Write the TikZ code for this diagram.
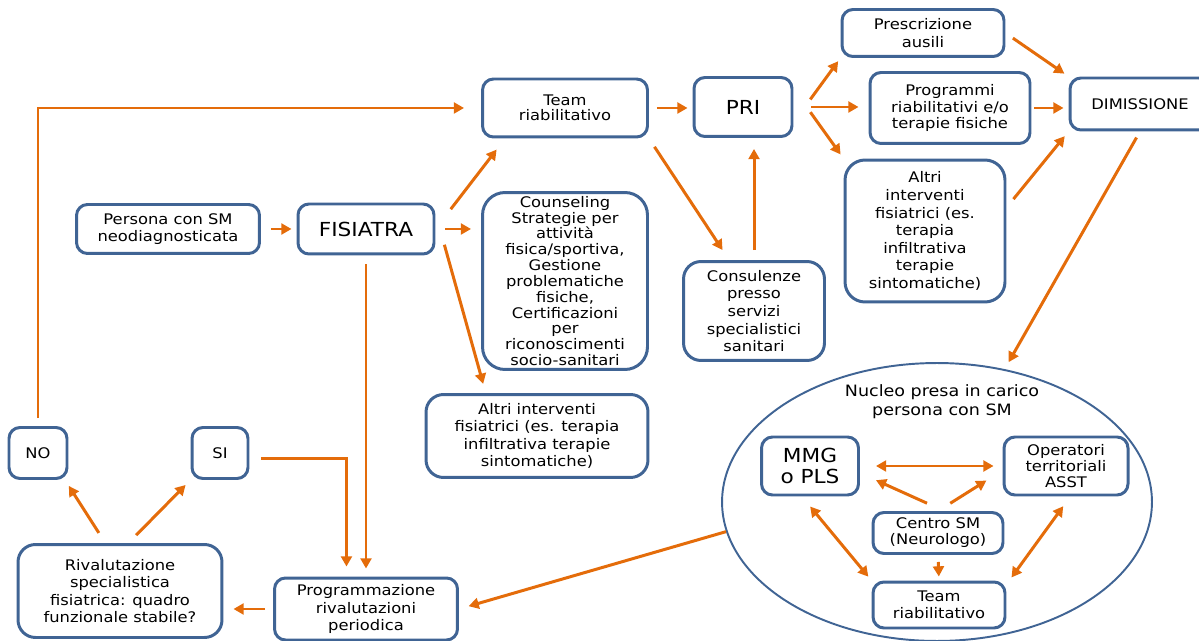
\documentclass[tikz,border=0pt]{standalone}
\usepackage{fontspec}
\setmainfont{DejaVu Sans}[FakeStretch=1.12]
\usetikzlibrary{arrows.meta,shapes.geometric}
\definecolor{boxblue}{RGB}{64,100,148}
\definecolor{arrorange}{RGB}{228,108,10}

\begin{document}
\begin{tikzpicture}[
x=0.02cm,y=-0.02cm,
box/.style={draw=boxblue,line width=1.7pt,rounded corners=0.22cm,fill=white,align=center,inner sep=1pt,font=\fontsize{8.3}{10}\selectfont},
bigbox/.style={box,font=\fontsize{11}{13}\selectfont},
flow/.style={draw=arrorange,line width=1.7pt,-{Triangle[length=5.8pt,width=6.2pt]}},
twoway/.style={flow,{Triangle[length=5.8pt,width=6.2pt]}-{Triangle[length=5.8pt,width=6.2pt]}}
]
\useasboundingbox (0,0) rectangle (1199,641);

% left and middle part
\node (pers) at (168,229) [box, minimum width=3.66cm, minimum height=0.98cm] {Persona con SM\\neodiagnosticata};
\node (fis) at (366,229) [bigbox, minimum width=2.72cm, minimum height=1cm] {FISIATRA};
\node (team) at (565,108) [box, minimum width=3.3cm, minimum height=1.16cm, font=\fontsize{8.3}{8.8}\selectfont] {Team\\riabilitativo};
\node (pri) at (743,107) [bigbox, minimum width=1.96cm, minimum height=1.18cm] {PRI};
\node (couns) at (565,281) [box, rounded corners=0.45cm, minimum width=3.3cm, minimum height=3.54cm, font=\fontsize{8.3}{9}\selectfont, inner sep=0pt] {Counseling\\Strategie per\\attività\\fisica/sportiva,\\Gestione\\problematiche\\fisiche,\\Certificazioni\\per\\riconoscimenti\\socio-sanitari};
\node (cons) at (754,311) [box, rounded corners=0.35cm, minimum width=2.82cm, minimum height=1.98cm] {Consulenze\\presso\\servizi\\specialistici\\sanitari};
\node (altria) at (537,436) [box, rounded corners=0.35cm, minimum width=4.44cm, minimum height=1.66cm] {Altri interventi\\fisiatrici (es. terapia\\infiltrativa terapie\\sintomatiche)};

% right part
\node (presc) at (923,33) [box, minimum width=3.24cm, minimum height=0.94cm] {Prescrizione\\ausili};
\node (progr) at (950,108) [box, minimum width=3.2cm, minimum height=1.42cm, font=\fontsize{8.3}{9.2}\selectfont] {Programmi\\riabilitativi e/o\\terapie fisiche};
\node (altrib) at (925,231) [box, rounded corners=0.4cm, minimum width=3.2cm, minimum height=2.84cm] {Altri\\interventi\\fisiatrici (es.\\terapia\\infiltrativa\\terapie\\sintomatiche)};
\node (dim) at (1140,104) [box, minimum width=2.8cm, minimum height=1.04cm] {DIMISSIONE};

% bottom left
\node (no) at (38,453) [box, minimum width=1.16cm, minimum height=1.02cm] {NO};
\node (si) at (220,453) [box, minimum width=1.12cm, minimum height=1.02cm] {SI};
\node (riv) at (120,591) [box, rounded corners=0.35cm, minimum width=4.08cm, minimum height=1.86cm] {Rivalutazione\\specialistica\\fisiatrica: quadro\\funzionale stabile?};
\node (prog) at (366,609) [box, minimum width=3.66cm, minimum height=1.24cm] {Programmazione\\rivalutazioni\\periodica};

% nucleo
\node (nucleo) at (937,502) [ellipse, draw=boxblue, line width=1.1pt, minimum width=8.6cm, minimum height=5.56cm] {};
\node (ntitle) at (942,402) [align=center, font=\fontsize{8.9}{10.8}\selectfont] {Nucleo presa in carico\\persona con SM};
\node (mmg) at (810,466) [bigbox, minimum width=1.94cm, minimum height=1.16cm, font=\fontsize{11}{12}\selectfont] {MMG\\o PLS};
\node (oper) at (1066,466) [box, minimum width=2.48cm, minimum height=1.16cm, font=\fontsize{8.3}{9}\selectfont] {Operatori\\territoriali\\ASST};
\node (centro) at (938,533) [box, minimum width=2.6cm, minimum height=0.82cm, font=\fontsize{8.3}{9}\selectfont] {Centro SM\\(Neurologo)};
\node (teamb) at (939,605) [box, minimum width=2.64cm, minimum height=0.92cm, font=\fontsize{8.3}{9.5}\selectfont] {Team\\riabilitativo};

\draw[flow, shorten <=0.2cm, shorten >=0.1cm] (pers) -- (fis);
\draw[flow, shorten <=0.5cm, shorten >=0.28cm] (fis.east) -- (team.207);
\draw[flow, shorten <=0.2cm, shorten >=0.2cm] (fis.east) -- (fis.east -| couns.west);
\draw[flow, shorten <=0.66cm, shorten >=0.19cm] (fis.13) -- (altria.140);
\draw[flow, shorten <=0.18cm, shorten >=0.16cm] (fis.south) -- (prog.north);
\draw[flow, shorten <=0.24cm, shorten >=0.2cm] (si.-10) -| (prog.121);
\draw[flow, shorten <=0.16cm, shorten >=0.34cm] (no.north) |- (team.west);
\draw[flow, shorten <=0.16cm, shorten >=0.1cm] (team.east) -- (team.east -| pri.west);
\draw[flow, shorten <=0.2cm, shorten >=0.24cm] (team.south east) -- (cons.116);
\draw[flow, shorten <=0.2cm, shorten >=0.22cm] (cons.north) -- (cons.north |- pri.south);
\draw[flow, shorten <=0.57cm, shorten >=0.08cm] (pri.-17) -- (presc.south west);
\draw[flow, shorten <=0.36cm, shorten >=0.2cm] (pri.east) -- (pri.east -| progr.west);
\draw[flow, shorten <=0.58cm, shorten >=0.1cm] (pri.20) -- (altrib.north west);
\draw[flow, shorten <=0.18cm, shorten >=0.1cm] (presc.east) -- (dim.north west);
\draw[flow, shorten <=0.06cm, shorten >=0.1cm] (progr.east) -- (progr.east -| dim.west);
\draw[flow, shorten <=0.22cm, shorten >=0.12cm] (altrib.16) -- (dim.south west);
\draw[flow, shorten <=0.14cm, shorten >=0.16cm] (dim.south) -- (nucleo.63);
\draw[flow, shorten >=0.2cm] (nucleo.188) -- (prog.east);
\draw[flow, shorten <=0.16cm, shorten >=0.2cm] (prog.west) -- (prog.west -| riv.east);
\draw[flow, shorten <=0.24cm, shorten >=0.14cm] (riv.107) -- (no.-45);
\draw[flow, shorten <=0.22cm, shorten >=0.14cm] (riv.80) -- (si.south west);

% inside the nucleo
\draw[twoway, shorten <=0.32cm, shorten >=0.18cm] (mmg.east) -- (oper.west);
\draw[flow, shorten <=0.38cm, shorten >=0.35cm] (centro.74) -- (mmg.-8);
\draw[flow, shorten <=0.29cm, shorten >=0.38cm] (centro.north) -- (oper.184);
\draw[twoway, shorten <=0.26cm, shorten >=0.1cm] (mmg.-105) -- (teamb.north west);
\draw[twoway, shorten <=0.24cm, shorten >=0.17cm] (oper.-82) -- (teamb.17);
\draw[flow, shorten <=0.14cm, shorten >=0.08cm] (centro.south) -- (teamb.north);

\end{tikzpicture}
\end{document}
